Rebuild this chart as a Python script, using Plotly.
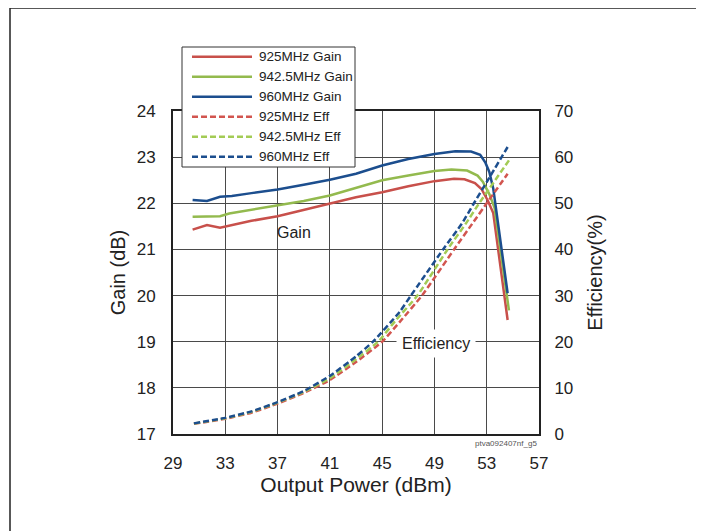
import plotly.graph_objects as go

# ---------------- data ----------------
pout_gain_925 = [30.5, 31.6, 32.6, 35, 37, 39, 41, 43, 45, 47, 49, 50.5, 51.3, 52.1, 52.6, 53.1, 53.5, 54.6]
gain_925 = [21.43, 21.53, 21.47, 21.62, 21.72, 21.86, 21.99, 22.13, 22.24, 22.37, 22.48, 22.53, 22.52, 22.44, 22.31, 22.05, 21.79, 19.47]

pout_gain_942 = [30.5, 32.6, 33.3, 35, 37, 39, 41, 43, 45, 47, 49, 50.3, 51.5, 52.3, 52.7, 53.2, 53.6, 54.7]
gain_942 = [21.71, 21.72, 21.78, 21.86, 21.94, 22.05, 22.17, 22.33, 22.5, 22.6, 22.7, 22.73, 22.71, 22.6, 22.47, 22.2, 21.9, 19.68]

pout_gain_960 = [30.5, 31.6, 32.6, 33.5, 35, 37, 39, 41, 43, 45, 47, 49, 50.6, 51.8, 52.5, 52.9, 53.2, 53.5, 54.6]
gain_960 = [22.07, 22.05, 22.14, 22.16, 22.22, 22.3, 22.4, 22.51, 22.64, 22.82, 22.96, 23.07, 23.13, 23.12, 23.05, 22.88, 22.68, 22.32, 20.05]

pout_eff_925 = [30.6, 33, 35, 37, 39, 41, 43, 45, 46.35, 48.05, 50.5, 52, 53, 54.6]
eff_925 = [2.2, 3.3, 4.6, 6.6, 8.9, 11.7, 15.6, 20.0, 24.3, 30.0, 40.0, 46.0, 50.0, 56.4]

pout_eff_942 = [30.6, 33, 35, 37, 39, 41, 43, 44.7, 46.0, 47.7, 50.0, 51.4, 52.4, 54.7]
eff_942 = [2.25, 3.4, 4.8, 6.8, 9.1, 12.1, 16.2, 20.0, 24.5, 30.0, 40.0, 45.6, 49.9, 59.3]

pout_eff_960 = [30.6, 33, 35, 37, 39, 41, 43, 44.3, 46.35, 47.2, 49.66, 51.1, 52.0, 53.0, 54.6]
eff_960 = [2.3, 3.5, 4.9, 6.9, 9.3, 12.6, 16.8, 20.0, 26.5, 30.0, 40.0, 45.6, 49.9, 54.6, 62.2]

series_names = ["925MHz Gain", "942.5MHz Gain", "960MHz Gain",
                "925MHz Eff", "942.5MHz Eff", "960MHz Eff"]
x_ticks = [29, 33, 37, 41, 45, 49, 53, 57]
gain_ticks = [17, 18, 19, 20, 21, 22, 23, 24]
eff_ticks = [0, 10, 20, 30, 40, 50, 60, 70]

# ---------------- style ----------------
RED = "#C8504B"
GREEN = "#93BA4E"
BLUE = "#1C4E8E"
RED_D = "#D2554F"
GREEN_D = "#A3CB55"
BLUE_D = "#1C4E8E"
FONT = "Liberation Sans, Arial, sans-serif"
DASH = "6px,3px"

OFF = 8  # page body margin offset
W, H = 696, 523
L, T = 165, 103
PW, PH = 366, 323
R = W - L - PW
B = H - T - PH


def pxx(x):
    return (x - OFF - L) / PW


def pxy(y):
    return (T + PH - (y - OFF)) / PH


fig = go.Figure()

gain_sets = [(pout_gain_925, gain_925, RED), (pout_gain_942, gain_942, GREEN), (pout_gain_960, gain_960, BLUE)]
eff_sets = [(pout_eff_925, eff_925, RED_D), (pout_eff_942, eff_942, GREEN_D), (pout_eff_960, eff_960, BLUE_D)]

for i, (xs, ys, c) in enumerate(eff_sets):
    fig.add_trace(go.Scatter(x=xs, y=ys, mode="lines", name=series_names[3 + i], yaxis="y2",
                             line=dict(color=c, width=2.5, dash=DASH, shape="spline", smoothing=0.4),
                             showlegend=False))
for i, (xs, ys, c) in enumerate(gain_sets):
    fig.add_trace(go.Scatter(x=xs, y=ys, mode="lines", name=series_names[i], yaxis="y",
                             line=dict(color=c, width=2.5), showlegend=False))

shapes = []
annotations = []

# outer frame
shapes.append(dict(type="rect", xref="paper", yref="paper", x0=pxx(10), x1=pxx(697), y0=pxy(545), y1=pxy(8),
                   line=dict(color="#222222", width=1.5), fillcolor="rgba(0,0,0,0)", layer="below"))

# custom legend
shapes.append(dict(type="rect", xref="paper", yref="paper", x0=pxx(182), x1=pxx(355), y0=pxy(167), y1=pxy(47),
                   line=dict(color="#333333", width=1), fillcolor="white", layer="above"))
leg_colors = [RED, GREEN, BLUE, RED_D, GREEN_D, BLUE_D]
leg_dash = ["solid", "solid", "solid", DASH, DASH, DASH]
for i in range(6):
    yy = 56.7 + 20 * i
    shapes.append(dict(type="line", xref="paper", yref="paper", x0=pxx(192), x1=pxx(252), y0=pxy(yy), y1=pxy(yy),
                       line=dict(color=leg_colors[i], width=2.5, dash=leg_dash[i]), layer="above"))
    annotations.append(dict(text=series_names[i], xref="paper", yref="paper", x=pxx(257), y=pxy(yy),
                            xanchor="left", yanchor="middle", showarrow=False,
                            font=dict(family=FONT, size=13.5, color="#222222")))

# in-plot labels
annotations.append(dict(text="Gain", xref="paper", yref="paper", x=pxx(294), y=pxy(232), showarrow=False,
                        xanchor="center", yanchor="middle", font=dict(family=FONT, size=16, color="#222222")))
annotations.append(dict(text="Efficiency", xref="paper", yref="paper", x=pxx(436), y=pxy(343), showarrow=False,
                        xanchor="center", yanchor="middle", bgcolor="white", borderpad=5,
                        font=dict(family=FONT, size=16, color="#222222")))
annotations.append(dict(text="ptva092407nf_g5", xref="paper", yref="paper", x=1.0, y=pxy(443), showarrow=False,
                        xanchor="right", yanchor="middle", font=dict(family=FONT, size=8, color="#555555")))

axis_common = dict(showline=True, linecolor="#222222", linewidth=2, mirror=True, ticks="",
                   tickfont=dict(family=FONT, size=17, color="#222222"), zeroline=False)

fig.update_layout(
    width=W, height=H,
    margin=dict(l=L, r=R, t=T, b=B, pad=0),
    paper_bgcolor="white", plot_bgcolor="white",
    showlegend=False,
    font=dict(family=FONT, color="#222222"),
    xaxis=dict(range=[29, 57], tickvals=x_ticks, ticktext=[str(v) for v in x_ticks],
               showgrid=True, gridcolor="#4a4a4a", gridwidth=1, ticklabelstandoff=13,
               title=dict(text="Output Power (dBm)", font=dict(family=FONT, size=21, color="#222222"), standoff=1),
               **axis_common),
    yaxis=dict(range=[17, 24], tickvals=gain_ticks, ticktext=[str(v) for v in gain_ticks],
               showgrid=True, gridcolor="#4a4a4a", gridwidth=1, ticklabelstandoff=12,
               title=dict(text="Gain (dB)", font=dict(family=FONT, size=20, color="#222222"), standoff=6),
               **axis_common),
    yaxis2=dict(range=[0, 70], tickvals=eff_ticks, ticktext=[str(v) for v in eff_ticks],
                overlaying="y", side="right", showgrid=False, ticklabelstandoff=10,
                title=dict(text="Efficiency(%)", font=dict(family=FONT, size=20, color="#222222"), standoff=16),
                showline=True, linecolor="#222222", linewidth=2, ticks="", zeroline=False,
                tickfont=dict(family=FONT, size=17, color="#222222")),
    shapes=shapes,
    annotations=annotations,
)

fig.write_html("out.html")
